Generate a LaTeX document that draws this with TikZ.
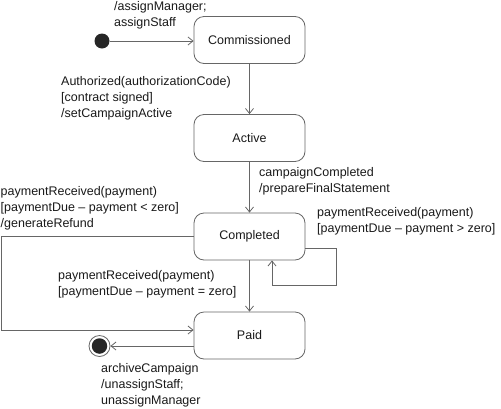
\documentclass[tikz,border=0pt]{standalone}
\usepackage{fontspec}
\setmainfont{Liberation Sans}
\usetikzlibrary{arrows.meta}
\begin{document}
\begin{tikzpicture}[x=1pt,y=-1pt,>={Straight Barb[length=5pt,width=8pt]},
    line/.style={draw=black!60,line width=.8pt},
    state/.style={line,rounded corners=10pt,minimum width=111pt,minimum height=47pt,
      text=black!90,font=\fontsize{12.5}{16}\selectfont},
    event/.style={align=left,anchor=base west,inner sep=0pt,
      text=black!90,font=\fontsize{12.5}{16}\selectfont},
    initdot/.style={circle,fill=black!85,minimum size=15pt,inner sep=0pt},
    finalring/.style={circle,line,fill=white,minimum size=21pt,inner sep=0pt},
    finaldot/.style={circle,fill=black!85,minimum size=15.5pt,inner sep=0pt}]
        % background
        \useasboundingbox (0,0) rectangle (501,408);
        % states
        \node[state] (commissioned) at (249.5,40) {Commissioned};
        \node[state] (active) at (249.5,138) {Active};
        \node[state] (completed) at (249.5,236.5) {Completed};
        \node[state] (paid) at (249.5,335.5) {Paid};
        \node[initdot] (start) at (102,41) {};
        \node[finalring] (stop) at (99.5,346) {};
        \node[finaldot] (stopdot) at (stop) {};
        % transitions
        \draw[line,->] (start) -- (start -| commissioned.west);
        \draw[line,->] (commissioned) -- (active);
        \draw[line,->] (active) -- (completed);
        \draw[line,->] (completed) -- (paid);
        \coordinate (loopcorner) at (336,285);
        \draw[line,->] ([yshift=-11.5pt]completed.east) -| (loopcorner)
                                 -| ([xshift=22.5pt]completed.south);
        \coordinate (leftcorner) at (1,330);
        \draw[line,->] (completed.west) -| (leftcorner) -- (leftcorner -| paid.west);
        \draw[line,->] (paid.west |- stop) -- (stop);
        % labels (anchored at the last line)
        \node[event] (assignlbl) at (114,26) {/assignManager;\\assignStaff};
        \node[event] (authlbl) at (61,117) {Authorized(authorizationCode)\\{[contract signed]}\\/setCampaignActive};
        \node[event] (donelbl) at (259,192) {campaignCompleted\\/prepareFinalStatement};
        \node[event] (refundlbl) at (0.5,227) {paymentReceived(payment)\\{[paymentDue -- payment < zero]}\\/generateRefund};
        \node[event] (morelbl) at (317,232) {paymentReceived(payment)\\{[paymentDue -- payment > zero]}};
        \node[event] (equallbl) at (58,295) {paymentReceived(payment)\\{[paymentDue -- payment = zero]}};
        \node[event] (archivelbl) at (101,404) {archiveCampaign\\/unassignStaff;\\unassignManager};
\end{tikzpicture}
\end{document}
